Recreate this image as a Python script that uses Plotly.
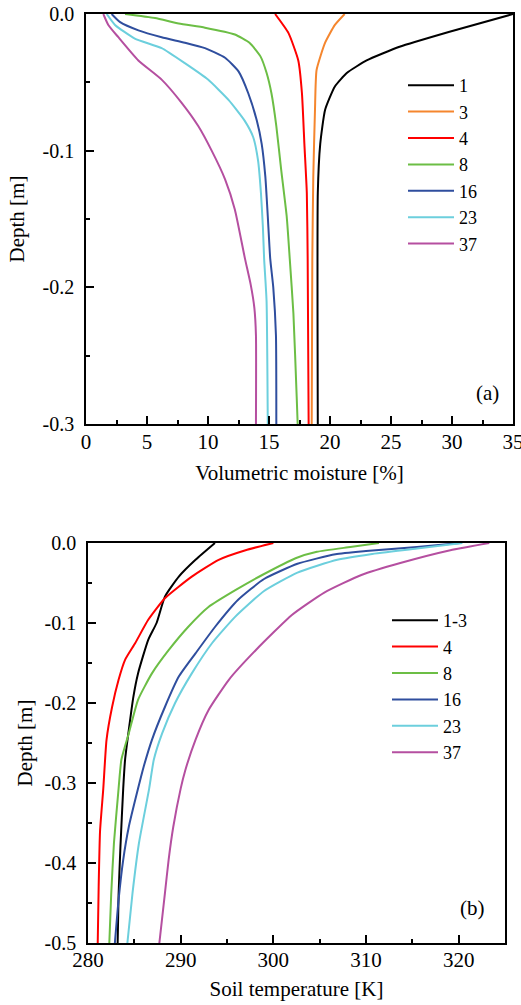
import plotly.graph_objects as go

# ---------------- Panel (a): volumetric moisture profiles ----------------
moist_labels = ["1", "3", "4", "8", "16", "23", "37"]
moist_colors = ["#000000", "#F5862E", "#FF0000", "#6CBE45", "#2F4E9E", "#6CCFDD", "#B54FA0"]

m1_x = [35.0, 29.8, 25.7, 23.0, 21.4, 20.4, 19.6, 19.2, 19.0, 19.0]
m1_d = [0.0, -0.013, -0.024, -0.034, -0.043, -0.053, -0.070, -0.095, -0.131, -0.300]

m3_x = [21.2, 20.4, 19.6, 18.9, 18.77, 18.63, 18.55, 18.5]
m3_d = [0.0, -0.008, -0.021, -0.041, -0.070, -0.119, -0.179, -0.300]

m4_x = [15.5, 16.6, 17.4, 17.7, 17.9, 18.1, 18.17, 18.25]
m4_d = [0.0, -0.014, -0.034, -0.058, -0.095, -0.131, -0.179, -0.300]

m8_x = [3.2, 5.66, 7.6, 9.75, 12.2, 13.4, 14.3, 14.8, 15.2, 15.6, 16.0, 16.45, 16.7, 17.0, 17.27, 17.35]
m8_d = [0.0, -0.003, -0.007, -0.010, -0.015, -0.021, -0.031, -0.043, -0.058, -0.082, -0.114, -0.148, -0.179, -0.219, -0.280, -0.300]

m16_x = [2.1, 2.8, 4.3, 6.2, 8.1, 9.75, 11.4, 12.5, 13.3, 14.0, 14.4, 14.7, 14.9, 15.1, 15.35, 15.57, 15.6]
m16_d = [0.0, -0.006, -0.012, -0.017, -0.021, -0.025, -0.032, -0.042, -0.058, -0.078, -0.095, -0.119, -0.148, -0.179, -0.200, -0.235, -0.300]

m23_x = [1.7, 2.38, 4.0, 6.2, 8.1, 10.0, 11.7, 13.0, 13.7, 14.1, 14.34, 14.5, 14.6, 14.8, 14.9]
m23_d = [0.0, -0.008, -0.018, -0.025, -0.036, -0.048, -0.063, -0.078, -0.090, -0.107, -0.131, -0.156, -0.179, -0.210, -0.300]

m37_x = [1.42, 1.83, 2.65, 4.29, 6.2, 7.84, 9.2, 10.3, 11.4, 12.2, 13.03, 13.5, 13.8, 13.93, 13.93]
m37_d = [0.0, -0.008, -0.017, -0.034, -0.048, -0.065, -0.082, -0.100, -0.121, -0.143, -0.179, -0.198, -0.215, -0.235, -0.300]

moist_x = [m1_x, m3_x, m4_x, m8_x, m16_x, m23_x, m37_x]
moist_d = [m1_d, m3_d, m4_d, m8_d, m16_d, m23_d, m37_d]

# ---------------- Panel (b): soil temperature profiles ----------------
temp_labels = ["1-3", "4", "8", "16", "23", "37"]
temp_colors = ["#000000", "#FF0000", "#6CBE45", "#2F4E9E", "#6CCFDD", "#B54FA0"]

t13_x = [293.7, 291.6, 289.8, 288.3, 287.4, 286.5, 285.4, 284.9, 284.4, 284.0, 283.8, 283.5, 283.3, 283.2]
t13_d = [0.0, -0.021, -0.042, -0.067, -0.100, -0.121, -0.163, -0.192, -0.234, -0.271, -0.307, -0.380, -0.440, -0.500]

t4_x = [300.0, 297.0, 294.1, 291.2, 288.3, 286.5, 285.1, 284.0, 283.3, 282.6, 282.0, 281.65, 281.3, 281.15, 281.05]
t4_d = [0.0, -0.009, -0.021, -0.042, -0.069, -0.096, -0.125, -0.146, -0.171, -0.205, -0.246, -0.307, -0.360, -0.430, -0.500]

t8_x = [311.4, 308.3, 304.7, 302.4, 298.8, 295.9, 293.0, 290.8, 288.7, 286.9, 285.4, 284.4, 283.6, 283.3, 282.8, 282.5, 282.3]
t8_d = [0.0, -0.005, -0.011, -0.019, -0.040, -0.059, -0.080, -0.105, -0.134, -0.163, -0.196, -0.238, -0.271, -0.307, -0.375, -0.440, -0.500]

t16_x = [320.2, 315.5, 310.0, 306.7, 302.6, 299.0, 296.2, 293.7, 291.6, 289.8, 288.3, 286.9, 286.0, 285.4, 284.4, 283.8, 283.3, 282.9]
t16_d = [0.0, -0.005, -0.010, -0.014, -0.026, -0.045, -0.071, -0.105, -0.138, -0.167, -0.205, -0.246, -0.280, -0.307, -0.355, -0.396, -0.446, -0.500]

t23_x = [320.4, 315.5, 310.5, 306.9, 302.6, 299.0, 295.9, 293.4, 291.2, 289.4, 288.0, 287.1, 286.6, 285.5, 284.8, 284.25]
t23_d = [0.0, -0.007, -0.014, -0.021, -0.037, -0.060, -0.092, -0.125, -0.163, -0.200, -0.238, -0.271, -0.307, -0.375, -0.438, -0.500]

t37_x = [323.3, 319.1, 313.7, 309.5, 305.5, 302.0, 298.1, 295.2, 293.0, 291.6, 290.5, 290.0, 289.2, 288.7, 288.3, 287.7]
t37_d = [0.0, -0.009, -0.025, -0.040, -0.062, -0.090, -0.134, -0.171, -0.209, -0.246, -0.284, -0.307, -0.355, -0.396, -0.438, -0.500]

temp_x = [t13_x, t4_x, t8_x, t16_x, t23_x, t37_x]
temp_d = [t13_d, t4_d, t8_d, t16_d, t23_d, t37_d]

# tick labels
a_xticks = [0, 5, 10, 15, 20, 25, 30, 35]
a_yticks = [0.0, -0.1, -0.2, -0.3]
b_xticks = [280, 290, 300, 310, 320]
b_yticks = [0.0, -0.1, -0.2, -0.3, -0.4, -0.5]

FONT = "Liberation Serif, Times New Roman, serif"
W, H = 521, 1005

fig = go.Figure()
for lab, col, xs, ds in zip(moist_labels, moist_colors, moist_x, moist_d):
    fig.add_trace(go.Scatter(x=xs, y=ds, mode="lines", name=lab,
                             line=dict(color=col, width=2, shape="spline", smoothing=0.5),
                             xaxis="x", yaxis="y", legend="legend"))
for lab, col, xs, ds in zip(temp_labels, temp_colors, temp_x, temp_d):
    fig.add_trace(go.Scatter(x=xs, y=ds, mode="lines", name=lab,
                             line=dict(color=col, width=2, shape="spline", smoothing=0.5),
                             xaxis="x2", yaxis="y2", legend="legend2"))


def ylab(v):
    return "0.0" if v == 0 else "-%.1f" % abs(v)


axis_common = dict(showline=True, linecolor="black", linewidth=1.5, mirror=True,
                   ticks="inside", ticklen=8, tickwidth=1.5, tickcolor="black",
                   showgrid=False, zeroline=False, automargin=False,
                   ticklabeloverflow="allow",
                   tickfont=dict(family=FONT, size=21, color="black"),
                   title_font=dict(family=FONT, size=21, color="black"))
minor_common = dict(ticks="inside", ticklen=4, tickwidth=1.5, tickcolor="black")

fig.update_layout(
    width=W, height=H,
    margin=dict(l=0, r=0, t=0, b=0, autoexpand=False),
    paper_bgcolor="white", plot_bgcolor="white",
    showlegend=True,
    xaxis=dict(axis_common, domain=[86 / W, 513 / W], range=[0, 35], anchor="y",
               tickvals=a_xticks, ticktext=[str(v) for v in a_xticks],
               ticklabelstandoff=-2,
               minor=dict(minor_common, dtick=2.5, tick0=0),
               title=dict(text="Volumetric moisture [%]", standoff=12)),
    yaxis=dict(axis_common, domain=[1 - 424 / H, 1 - 14 / H], range=[-0.3, 0], anchor="x",
               tickvals=a_yticks, ticktext=[ylab(v) for v in a_yticks],
               tickfont=dict(family=FONT, size=20, color="black"),
               ticklabelstandoff=6,
               minor=dict(minor_common, dtick=0.05, tick0=0),
               title=dict(text="Depth [m]", standoff=12)),
    xaxis2=dict(axis_common, domain=[88 / W, 505 / W], range=[280, 325], anchor="y2",
                tickvals=b_xticks, ticktext=[str(v) for v in b_xticks],
                ticklabelstandoff=-3,
                minor=dict(minor_common, dtick=5, tick0=280),
                title=dict(text="Soil temperature [K]", standoff=10)),
    yaxis2=dict(axis_common, domain=[1 - 943 / H, 1 - 543 / H], range=[-0.5, 0], anchor="x2",
                tickvals=b_yticks, ticktext=[ylab(v) for v in b_yticks],
                tickfont=dict(family=FONT, size=20, color="black"),
                ticklabelstandoff=6,
                minor=dict(minor_common, dtick=0.05, tick0=0),
                title=dict(text="Depth [m]", standoff=6)),
    legend=dict(x=403 / W, y=1 - 67 / H, xanchor="left", yanchor="top",
                bgcolor="rgba(0,0,0,0)", itemwidth=46, tracegroupgap=0,
                font=dict(family=FONT, size=18, color="black")),
    legend2=dict(x=387 / W, y=1 - 602 / H, xanchor="left", yanchor="top",
                 bgcolor="rgba(0,0,0,0)", itemwidth=46, tracegroupgap=0,
                 font=dict(family=FONT, size=18, color="black")),
    annotations=[
        dict(text="(a)", x=487 / W, y=1 - 393 / H, xref="paper", yref="paper",
             xanchor="center", yanchor="middle",
             showarrow=False, font=dict(family=FONT, size=21, color="black")),
        dict(text="(b)", x=472 / W, y=1 - 908 / H, xref="paper", yref="paper",
             xanchor="center", yanchor="middle",
             showarrow=False, font=dict(family=FONT, size=21, color="black")),
    ],
)

fig.write_html("out.html")
